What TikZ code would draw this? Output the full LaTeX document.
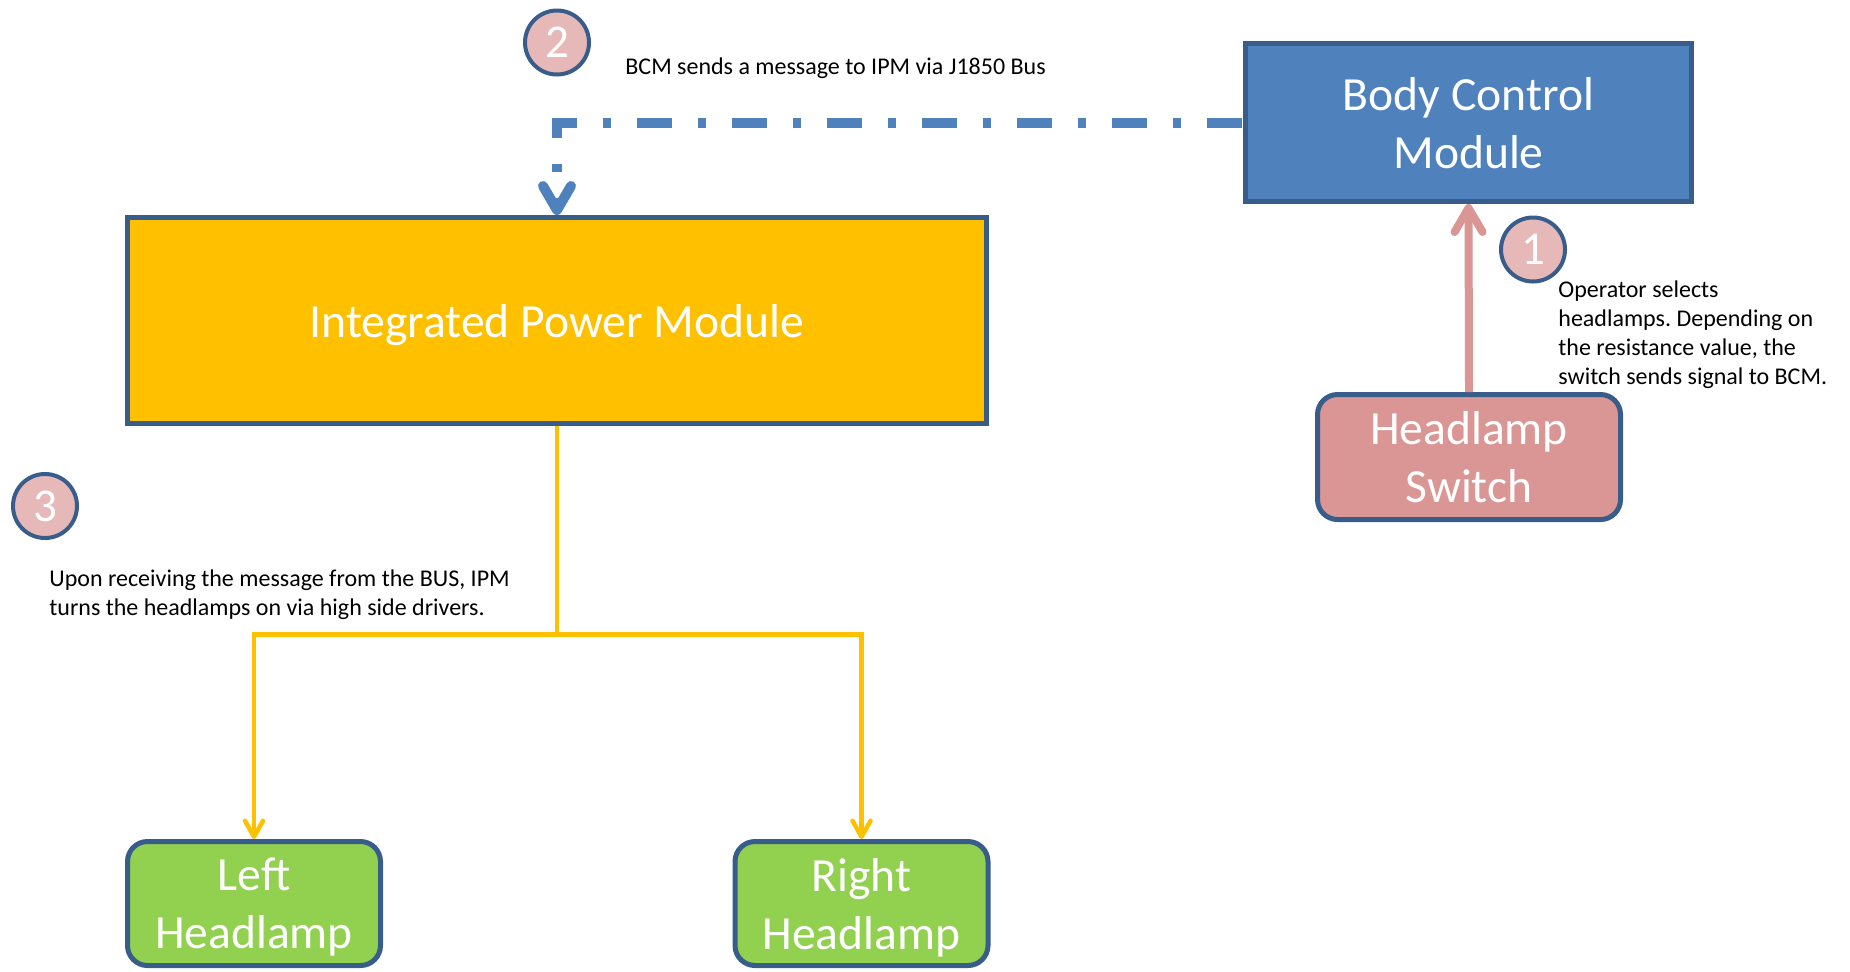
\documentclass[tikz,border=0pt]{standalone}
\usepackage{fontspec}
\setmainfont{Carlito}
\frenchspacing
\usetikzlibrary{positioning,arrows.meta}
\definecolor{bcmblue}{HTML}{4F81BD}
\definecolor{edgeblue}{HTML}{385D8A}
\definecolor{ipmyellow}{HTML}{FFC000}
\definecolor{swpink}{HTML}{D99694}
\definecolor{numpink}{HTML}{E6B9B8}
\definecolor{hlgreen}{HTML}{92D050}

\begin{document}
\begin{tikzpicture}[x=0.5pt,y=-0.5pt,
  box/.style={draw=edgeblue,line width=2.5pt,text=white,align=center,inner sep=0pt,
    text depth=0pt,font=\fontsize{23.8}{29}\selectfont},
  rbox/.style={box,rounded corners=10pt},
  numcirc/.style={circle,draw=edgeblue,line width=2pt,fill=numpink,text=white,
    minimum size=32pt,inner sep=0pt,font=\fontsize{23.5}{29}\selectfont},
  note/.style={inner sep=0pt,align=left,anchor=base west,font=\fontsize{12}{14.4}\selectfont},
  busline/.style={bcmblue,line width=5pt,dash pattern=on 17.5pt off 13pt on 4pt off 13pt,dash phase=47pt},
  sigline/.style={swpink,line width=4pt},
  pwrline/.style={ipmyellow,line width=2.25pt}]
\useasboundingbox (0,0) rectangle (1850,971);
% modules and loads
\node[box,fill=bcmblue,minimum width=223pt,minimum height=79pt] (bcm) at (1468.5,122.5) {Body Control\\Module};
\node[box,fill=ipmyellow,minimum width=429.5pt,minimum height=103pt] (ipm) at (557,320.5) {Integrated Power Module};
\node[rbox,fill=swpink,minimum width=151.5pt,minimum height=62.5pt] (hlswitch) at (1469,457) {Headlamp\\Switch};
\node[rbox,fill=hlgreen,minimum width=126.5pt,minimum height=62pt] (lefthl) at (254,903.5) {Left\\Headlamp};
\node[rbox,fill=hlgreen,minimum width=126.5pt,minimum height=62pt] (righthl) at (861.5,903.5) {Right\\Headlamp};
% step numbers
\foreach \n/\x/\y in {1/1533/249.5, 2/557/42.5, 3/45/506}{
  \node[numcirc] (num\n) at (\x,\y) {\n};
}
% notes (base = last line)
\node[note] (msgswitch) at (1558,384) {Operator selects\\headlamps. Depending on\\the resistance value, the\\switch sends signal to BCM.};
\node[note] (msgbus) at (625,74) {BCM sends a message to IPM via J1850 Bus};
\node[note] (msgipm) at (49,615) {Upon receiving the message from the BUS, IPM\\turns the headlamps on via high side drivers.};
% connections
\draw[sigline,-{Straight Barb[length=12pt,width=14pt,round]}] (hlswitch.north) -- (bcm.south);
\draw[busline,-{Straight Barb[length=12pt,width=14pt,round]}] (bcm.west) -| (ipm.north);
\coordinate (split) at (557,634.5);
\draw[pwrline] (ipm.south) -- (split);
\draw[pwrline,-{Straight Barb[length=8pt,width=9pt,round]}] (split) -| (lefthl.north);
\draw[pwrline,-{Straight Barb[length=8pt,width=9pt,round]}] (split) -| (righthl.north);
\end{tikzpicture}
\end{document}
